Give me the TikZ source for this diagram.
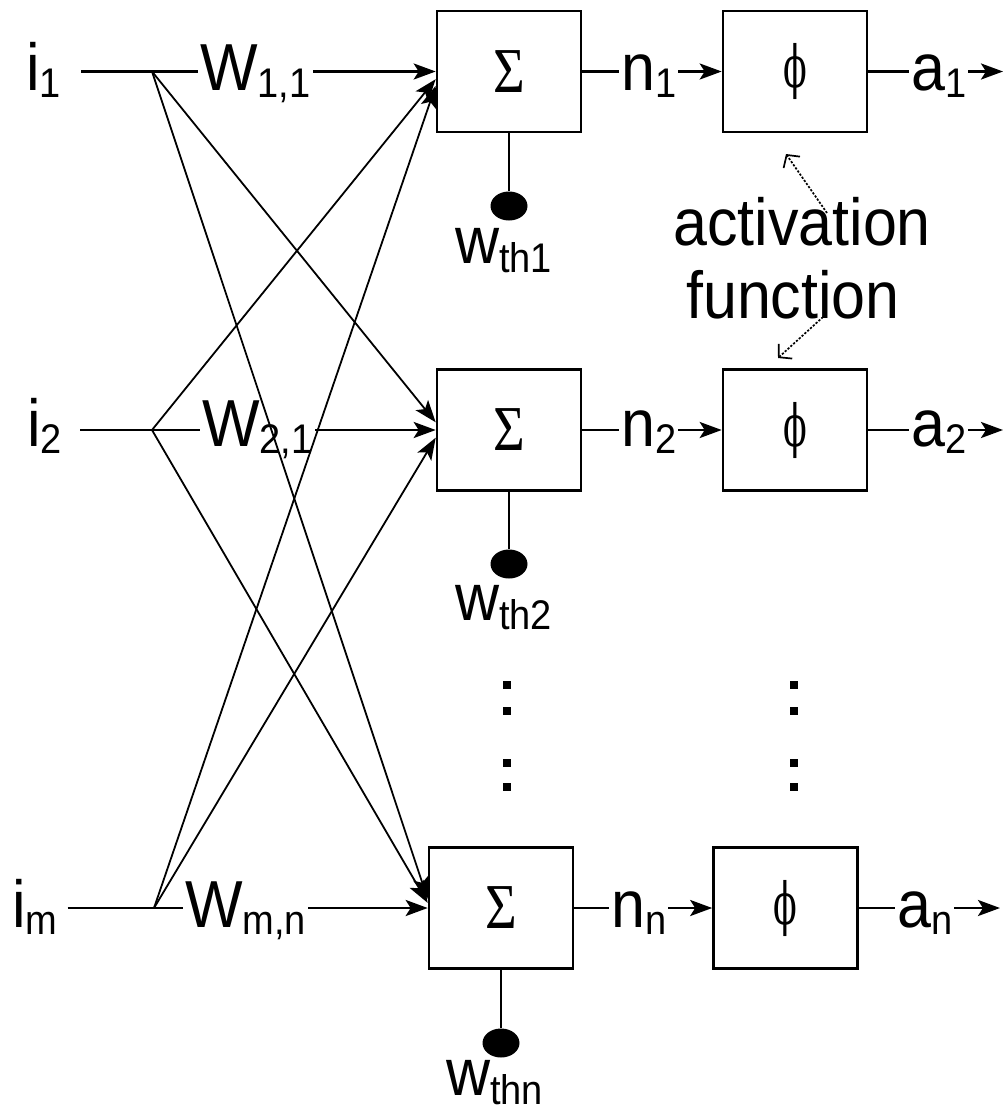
\RequirePackage{fix-cm}
\documentclass[tikz,border=0pt]{standalone}
\usepackage[no-math]{fontspec}
\setmainfont{Liberation Sans}
\newfontfamily\phifont{DejaVu Serif}
\newfontfamily\sigfont{Liberation Serif}
\usepackage{graphicx}
\usetikzlibrary{arrows.meta,shapes.geometric}
\newcommand\lab[2]{\scalebox{1}[1.09]{\fontsize{61pt}{61pt}\selectfont #1\raisebox{-6.5pt}{\fontsize{38pt}{38pt}\selectfont #2}}}
\newcommand\labw[2]{\scalebox{1}[1.09]{\fontsize{61pt}{61pt}\selectfont #1\raisebox{-8.3pt}{\fontsize{38pt}{38pt}\selectfont #2}}}
\newcommand\bigtxt[1]{\scalebox{1}[1.09]{\fontsize{61pt}{61pt}\selectfont #1}}
\newcommand\mysig{\scalebox{0.85}[1]{\fontsize{64pt}{64pt}\sigfont Σ}}
\newcommand\myphi{\scalebox{0.6}[1]{\fontsize{58pt}{58pt}\phifont ϕ}}
\tikzset{
  thickline/.style={line width=2.8pt},
  thinline/.style={line width=1.8pt},
  arrowtip/.style={-{Stealth[length=22pt,width=16pt,inset=5pt]}},
  box/.style={draw, line width=2.6pt, minimum width=144pt, minimum height=121pt, inner sep=0pt},
  lbl/.style={inner sep=0pt, anchor=base west},
  wlbl/.style={inner xsep=2pt, inner ysep=0pt, fill=white, anchor=base west},
  bias/.style={ellipse, fill=black, minimum width=37pt, minimum height=29pt, inner sep=0pt},
  dotsq/.style={fill=black, minimum size=8pt, inner sep=0pt},
  note/.style={dash pattern=on 2.2pt off 1.6pt, line width=1.7pt, -{Straight Barb[length=9pt,width=20pt,line width=1.7pt]}}
}
\begin{document}
\begin{tikzpicture}[x=1pt,y=-1pt]
\useasboundingbox (0,0) rectangle (1005,1111);
% boxes
\node[box] (sig1) at (509,71.5) {\mysig};
\node[box] (sig2) at (509,430) {\mysig};
\node[box] (sig3) at (501,908) {\mysig};
\node[box] (phi1) at (795,71.5) {\myphi};
\node[box] (phi2) at (795,430) {\myphi};
\node[box] (phi3) at (785.5,908) {\myphi};
% split points
\coordinate (s1) at (152,71.5);
\coordinate (s2) at (152,430);
\coordinate (s3) at (154,908);
% inputs
\node[lbl] (i1) at (26,90) {\lab{i}{1}};
\node[lbl] (i2) at (27,446) {\lab{i}{2}};
\node[lbl] (i3) at (12,927) {\lab{i}{m}};
\draw[thickline, shorten <=20pt] (i1.east |- s1) -- (s1);
\draw[thickline, shorten <=18pt] (i2.east |- s2) -- (s2);
\draw[thickline, shorten <=10pt] (i3.east |- s3) -- (s3);
\draw[thickline, arrowtip] (s1) -- (sig1.west);
\draw[thickline, arrowtip] (s2) -- (sig2.west);
\draw[thickline, arrowtip] (s3) -- (sig3.west);
\node[wlbl] (w1) at (198,90) {\lab{W}{1,1}};
\node[wlbl] (w2) at (200,446) {\lab{W}{2,1}};
\node[wlbl] (w3) at (183,927) {\lab{W}{m,n}};
% outputs
\coordinate (o1) at (1003,71.5);
\coordinate (o2) at (1003,430);
\coordinate (o3) at (1000,908);
\draw[thickline, arrowtip] (sig1.east) -- (phi1.west);
\draw[thickline, arrowtip] (sig2.east) -- (phi2.west);
\draw[thickline, arrowtip] (sig3.east) -- (phi3.west);
\draw[thickline, arrowtip] (phi1.east) -- (o1);
\draw[thickline, arrowtip] (phi2.east) -- (o2);
\draw[thickline, arrowtip] (phi3.east) -- (o3);
\node[wlbl] (n1) at (619,90) {\lab{n}{1}};
\node[wlbl] (n2) at (619,446) {\lab{n}{2}};
\node[wlbl] (n3) at (609,927) {\lab{n}{n}};
\node[wlbl] (a1) at (909,90) {\lab{a}{1}};
\node[wlbl] (a2) at (909,446) {\lab{a}{2}};
\node[wlbl] (a3) at (895,927) {\lab{a}{n}};
% biases
\node[bias] (b1) at (509,206) {};
\node[bias] (b2) at (509,564) {};
\node[bias] (b3) at (501,1043) {};
\draw[thickline] (sig1.south) -- (b1);
\draw[thickline] (sig2.south) -- (b2);
\draw[thickline] (sig3.south) -- (b3);
\node[lbl] (t1) at (455,263) {\labw{w}{th1}};
\node[lbl] (t2) at (455,620) {\labw{w}{th2}};
\node[lbl] (t3) at (446,1095) {\labw{w}{thn}};
% diagonal connections
\draw[thinline, arrowtip] (s1) -- (sig2.174);
\draw[thinline, arrowtip] (s1) -- (sig3.173);
\draw[thinline, arrowtip] (s2) -- (sig1.186);
\draw[thinline, arrowtip] (s2) -- (sig3.176);
\draw[thinline, arrowtip] (s3) -- (sig1.191);
\draw[thinline, arrowtip] (s3) -- (sig2.186);
% vertical ellipsis dots
\foreach \x in {507,794} {
  \foreach \y in {685,711,763,787} {
    \node[dotsq] (d-\x-\y) at (\x,\y) {};
  }
}
% activation function note
\node[lbl] (act1) at (673,245) {\bigtxt{activation}};
\node[lbl] (act2) at (686,318) {\bigtxt{function}};
\coordinate (h1) at (786,154);
\coordinate (ta) at (827,213);
\coordinate (h2) at (778,358);
\coordinate (tb) at (823,317);
\draw[note] (ta) -- (h1);
\draw[note] (tb) -- (h2);
\end{tikzpicture}
\end{document}
